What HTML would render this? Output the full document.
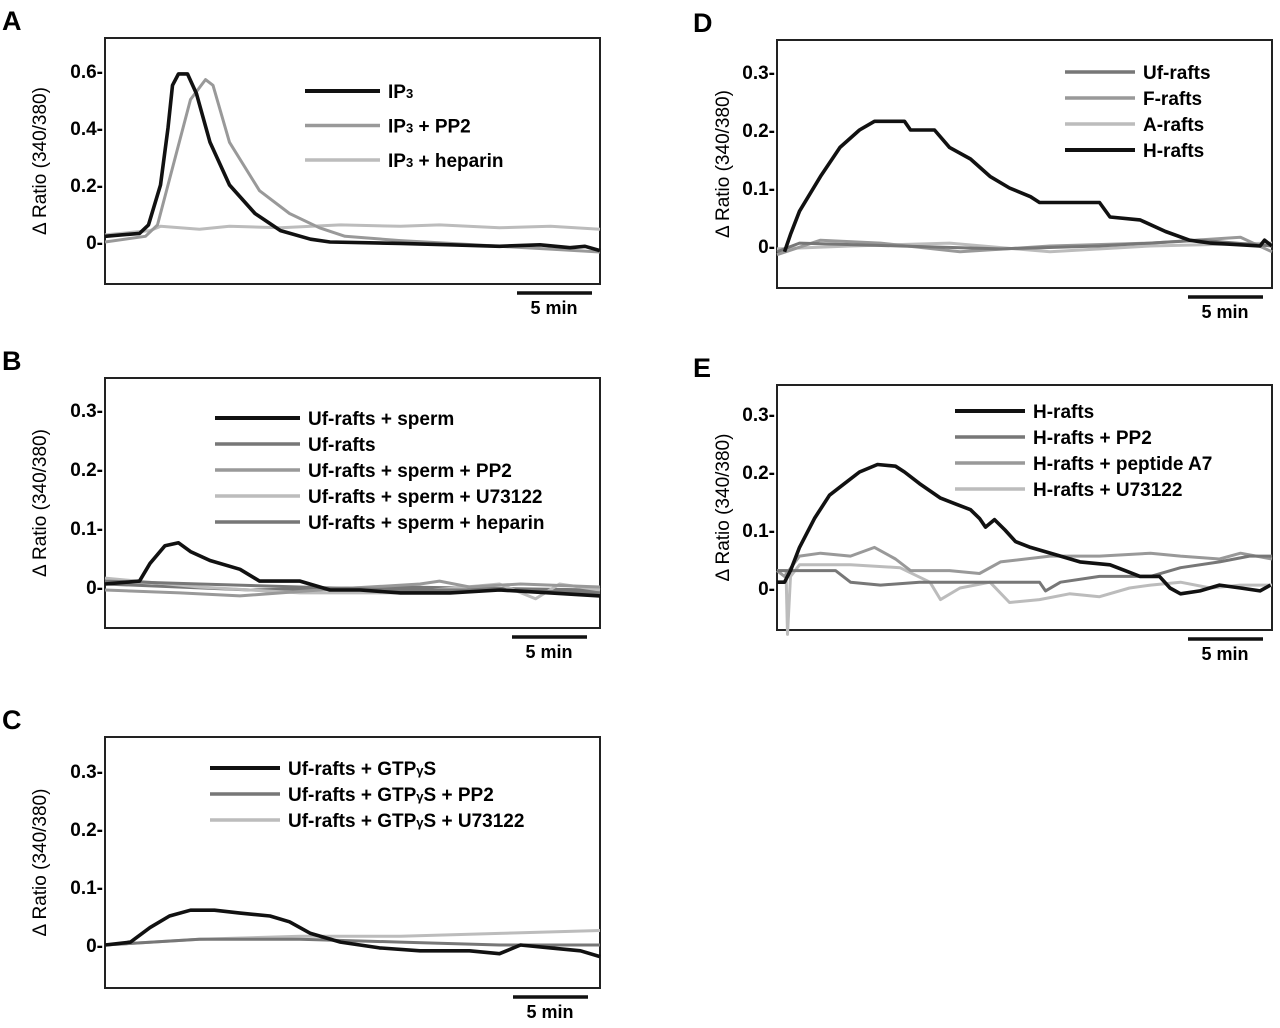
<!DOCTYPE html>
<html><head><meta charset="utf-8"><style>
body{margin:0;background:#fff;}
svg{display:block;font-family:"Liberation Sans",Arial,sans-serif;font-weight:bold;}
</style></head><body>
<svg id="fig" width="1280" height="1028" viewBox="0 0 1280 1028"></svg>
<script>
// ---- data (time in minutes, values in ΔRatio) ----
const aIP3T=[0,2.3,2.9,3.7,4.2,4.5,4.9,5.5,6.1,7.0,8.3,10.0,11.7,13.7,15.0,19.7,23.0,26.3,29.0,31.0,32.0,33.0];
const aIP3V=[0.02,0.03,0.06,0.2,0.4,0.55,0.59,0.59,0.52,0.35,0.2,0.1,0.04,0.01,0.0,-0.005,-0.01,-0.015,-0.01,-0.02,-0.015,-0.03];
const aPP2T=[0,2.7,3.5,4.7,5.7,6.7,7.2,8.3,10.3,12.3,14.3,16.0,19.7,23.0,26.3,29.7,33.0];
const aPP2V=[0.0,0.02,0.06,0.3,0.5,0.57,0.55,0.35,0.18,0.1,0.05,0.02,0.005,-0.005,-0.015,-0.025,-0.035];
const aHepT=[0,3.0,3.7,5.0,6.3,8.3,11.7,15.7,19.7,22.3,26.3,29.7,33.0];
const aHepV=[0.025,0.04,0.055,0.05,0.045,0.055,0.05,0.06,0.055,0.06,0.05,0.055,0.045];
const bSpT=[0,2.3,3.0,4.0,4.9,5.7,7.0,9.0,10.3,13.0,15.0,17.0,19.7,23.0,26.3,29.7,33.0];
const bSpV=[0.005,0.01,0.04,0.07,0.075,0.06,0.045,0.03,0.01,0.01,-0.005,-0.005,-0.01,-0.01,-0.005,-0.01,-0.015];
const bUfT=[0,6.3,13.0,19.7,26.3,33.0];
const bUfV=[0.01,0.005,0.0,-0.005,-0.005,-0.01];
const bPPT=[0,5.0,9.0,14.3,21.0,22.3,24.3,27.7,33.0];
const bPPV=[-0.005,-0.01,-0.015,-0.005,0.005,0.01,0.0,0.005,0.0];
const bU7T=[0,6.3,13.0,19.7,26.3,28.7,30.3,33.0];
const bU7V=[0.015,0.0,-0.01,-0.01,0.005,-0.02,0.005,-0.005];
const bHpT=[0,9.7,19.7,33.0];
const bHpV=[0.005,-0.005,0.0,-0.005];
const cGT=[0,1.7,3.0,4.3,5.7,7.3,9.0,11.0,12.3,13.7,15.7,18.3,21.0,24.3,26.3,27.7,29.7,31.7,33.0];
const cGV=[0.0,0.005,0.03,0.05,0.06,0.06,0.055,0.05,0.04,0.02,0.005,-0.005,-0.01,-0.01,-0.015,0.0,-0.005,-0.01,-0.02];
const cPT=[0,6.3,13.0,19.7,26.3,33.0];
const cPV=[0.0,0.01,0.01,0.005,0.0,0.0];
const cUT=[0,6.3,13.0,19.7,26.3,33.0];
const cUV=[0.0,0.01,0.015,0.015,0.02,0.025];
const dHT=[0.5,0.9,1.5,2.9,4.2,5.5,6.5,8.5,8.9,10.5,11.5,12.9,14.2,15.5,16.9,17.5,21.5,22.2,24.2,25.9,27.5,28.9,32.2,32.5,33.0];
const dHV=[-0.01,0.02,0.06,0.12,0.17,0.2,0.215,0.215,0.2,0.2,0.17,0.15,0.12,0.1,0.085,0.075,0.075,0.05,0.045,0.025,0.01,0.005,0.0,0.01,0.0];
const dUfT=[0,1.5,8.2,14.9,21.5,28.2,33.0];
const dUfV=[-0.01,0.005,0.0,-0.005,0.0,0.01,0.0];
const dFT=[0,2.9,6.9,12.2,18.2,24.9,30.9,33.0];
const dFV=[-0.015,0.01,0.005,-0.01,0.0,0.005,0.015,-0.01];
const dAT=[0,4.9,11.5,18.2,24.9,33.0];
const dAV=[-0.005,0.0,0.005,-0.01,0.0,0.005];
const eHT=[0,0.5,0.9,1.5,2.5,3.5,4.5,5.5,6.7,7.9,8.5,9.5,10.9,11.9,12.9,13.5,13.9,14.5,15.2,15.9,16.9,18.9,20.2,22.2,23.2,24.2,25.5,26.2,26.9,28.2,29.5,30.9,32.2,32.9];
const eHV=[0.01,0.01,0.03,0.07,0.12,0.16,0.18,0.2,0.213,0.21,0.2,0.18,0.155,0.145,0.135,0.12,0.105,0.118,0.1,0.08,0.07,0.055,0.045,0.04,0.03,0.02,0.02,0.0,-0.01,-0.005,0.005,0.0,-0.005,0.005];
const ePT=[0,0.9,3.9,4.9,6.9,9.5,17.5,17.9,18.9,21.5,24.9,26.9,29.5,31.5,33.0];
const ePV=[0.03,0.03,0.03,0.01,0.005,0.01,0.01,-0.005,0.01,0.02,0.02,0.035,0.045,0.055,0.055];
const eAT=[0,0.5,1.5,2.9,4.9,6.5,7.9,8.9,11.5,13.5,14.9,18.2,21.5,24.9,26.9,29.5,30.9,33.0];
const eAV=[0.03,0.02,0.055,0.06,0.055,0.07,0.05,0.03,0.03,0.025,0.045,0.055,0.055,0.06,0.055,0.05,0.06,0.05];
const eUT=[0,0.6,0.7,0.9,1.5,4.9,8.2,10.2,10.9,12.2,14.2,15.5,17.5,19.5,21.5,23.5,24.9,26.9,28.9,30.9,33.0];
const eUV=[0.03,0.03,-0.08,0.02,0.04,0.04,0.035,0.01,-0.02,0.0,0.01,-0.025,-0.02,-0.01,-0.015,0.0,0.005,0.01,0.0,0.005,0.005];
const ticksA=[0,0.2,0.4,0.6];
const ticksB=[0,0.1,0.2,0.3];
const labelsA=["0","0.2","0.4","0.6"];
const labelsB=["0","0.1","0.2","0.3"];
const legA=["IP3","IP3 + PP2","IP3 + heparin"];
const legB=["Uf-rafts + sperm","Uf-rafts","Uf-rafts + sperm + PP2","Uf-rafts + sperm + U73122","Uf-rafts + sperm + heparin"];
const legC=["Uf-rafts + GTPγS","Uf-rafts + GTPγS + PP2","Uf-rafts + GTPγS + U73122"];
const legD=["Uf-rafts","F-rafts","A-rafts","H-rafts"];
const legE=["H-rafts","H-rafts + PP2","H-rafts + peptide A7","H-rafts + U73122"];

const NS="http://www.w3.org/2000/svg";
const svg=document.getElementById('fig');
function mk(tag,attrs,parent){const e=document.createElementNS(NS,tag);for(const k in attrs)e.setAttribute(k,attrs[k]);(parent||svg).appendChild(e);return e;}
const ST={black:{s:"#111",w:3.6,d:null},dark:{s:"#777",w:3,d:"2 1"},mid:{s:"#999",w:3,d:"2 1"},light:{s:"#bcbcbc",w:3,d:"2 1"}};

function panel(p){
  const g=mk('g',{});
  
  
  const xs=t=>p.l+t*15;
  const ys=v=>p.y0-v*p.k;
  const lt=mk('text',{x:p.lx,y:p.ly,'font-size':27},g);lt.textContent=p.id;
  
  
  const box=mk('rect',{x:p.l,y:p.t,width:p.r-p.l,height:p.b-p.t,fill:'none',stroke:'#222','stroke-width':2},g);
  
  
  p.ticks.forEach((v,i)=>{
    const tx=mk('text',{x:p.l-2,y:ys(v)+7,'text-anchor':'end','font-size':19},g);tx.textContent=p.labels[i]+"-";
    
    
  });
  const cy=(p.t+p.b)/2;
  const yt=mk('text',{x:p.ax,y:cy,'text-anchor':'middle','font-size':19,'font-weight':'normal',transform:`rotate(-90 ${p.ax} ${cy})`},g);
  yt.textContent="Δ Ratio (340/380)";
  
  
  p.series.forEach((s,si)=>{
    const d=s.t.map((t,i)=>(i?'L':'M')+xs(t).toFixed(1)+','+ys(s.v[i]).toFixed(1)).join(' ');
    const st=ST[s.c];
    const path=mk('path',{d:d,fill:'none',stroke:st.s,'stroke-width':st.w,'stroke-linejoin':'round'},g);
    
    
  });
  p.leg.forEach((name,i)=>{
    const st=ST[p.legc[i]];
    const y=p.legy+i*p.legdy;
    const ln=mk('line',{x1:p.legx,x2:p.legx+p.legw,y1:y,y2:y,stroke:st.s,'stroke-width':st.w+0.4},g);
    
    
    const tx=mk('text',{x:p.legx+p.legw+8,y:y+7,'font-size':19},g);
    if(name.startsWith("IP3")){
      tx.textContent="IP";
      const sub=mk('tspan',{'font-size':13},tx);sub.textContent="3";
      const rest=mk('tspan',{},tx);rest.textContent=name.slice(3);
    } else if(name.includes("γ")){
      const parts=name.split("γ");
      tx.textContent=parts[0];
      const gm=mk('tspan',{'font-size':13},tx);gm.textContent="γ";
      const rest=mk('tspan',{},tx);rest.textContent=parts[1];
    } else tx.textContent=name;
    
    
  });
  const sb=mk('line',{x1:p.sbx,x2:p.sbx+75,y1:p.b+9,y2:p.b+9,stroke:'#111','stroke-width':3.5},g);
  
  
  const sl=mk('text',{x:p.sbx+37,y:p.b+30,'text-anchor':'middle','font-size':18},g);sl.textContent="5 min";
  
  
}

panel({id:"A",lx:2,ly:30,l:105,r:600,t:38,b:284,y0:242,k:285,ax:46,ticks:ticksA,labels:labelsA,sbx:517,
  series:[{t:aHepT,v:aHepV,c:"light"},{t:aPP2T,v:aPP2V,c:"mid"},{t:aIP3T,v:aIP3V,c:"black"}],
  leg:legA,legc:["black","mid","light"],legx:305,legw:75,legy:91,legdy:34.5});
panel({id:"B",lx:2,ly:370,l:105,r:600,t:378,b:628,y0:587,k:590,ax:46,ticks:ticksB,labels:labelsB,sbx:512,
  series:[{t:bHpT,v:bHpV,c:"dark"},{t:bU7T,v:bU7V,c:"light"},{t:bPPT,v:bPPV,c:"mid"},{t:bUfT,v:bUfV,c:"dark"},{t:bSpT,v:bSpV,c:"black"}],
  leg:legB,legc:["black","dark","mid","light","dark"],legx:215,legw:85,legy:418,legdy:26});
panel({id:"C",lx:2,ly:729,l:105,r:600,t:737,b:988,y0:945,k:580,ax:46,ticks:ticksB,labels:labelsB,sbx:513,
  series:[{t:cUT,v:cUV,c:"light"},{t:cPT,v:cPV,c:"dark"},{t:cGT,v:cGV,c:"black"}],
  leg:legC,legc:["black","dark","light"],legx:210,legw:70,legy:768,legdy:26});
panel({id:"D",lx:693,ly:32,l:777,r:1272,t:40,b:288,y0:246,k:580,ax:729,ticks:ticksB,labels:labelsB,sbx:1188,
  series:[{t:dAT,v:dAV,c:"light"},{t:dFT,v:dFV,c:"mid"},{t:dUfT,v:dUfV,c:"dark"},{t:dHT,v:dHV,c:"black"}],
  leg:legD,legc:["dark","mid","light","black"],legx:1065,legw:70,legy:72,legdy:26});
panel({id:"E",lx:693,ly:377,l:777,r:1272,t:385,b:630,y0:588,k:580,ax:729,ticks:ticksB,labels:labelsB,sbx:1188,
  series:[{t:eUT,v:eUV,c:"light"},{t:eAT,v:eAV,c:"mid"},{t:ePT,v:ePV,c:"dark"},{t:eHT,v:eHV,c:"black"}],
  leg:legE,legc:["black","dark","mid","light"],legx:955,legw:70,legy:411,legdy:26});
</script>
</body></html>
